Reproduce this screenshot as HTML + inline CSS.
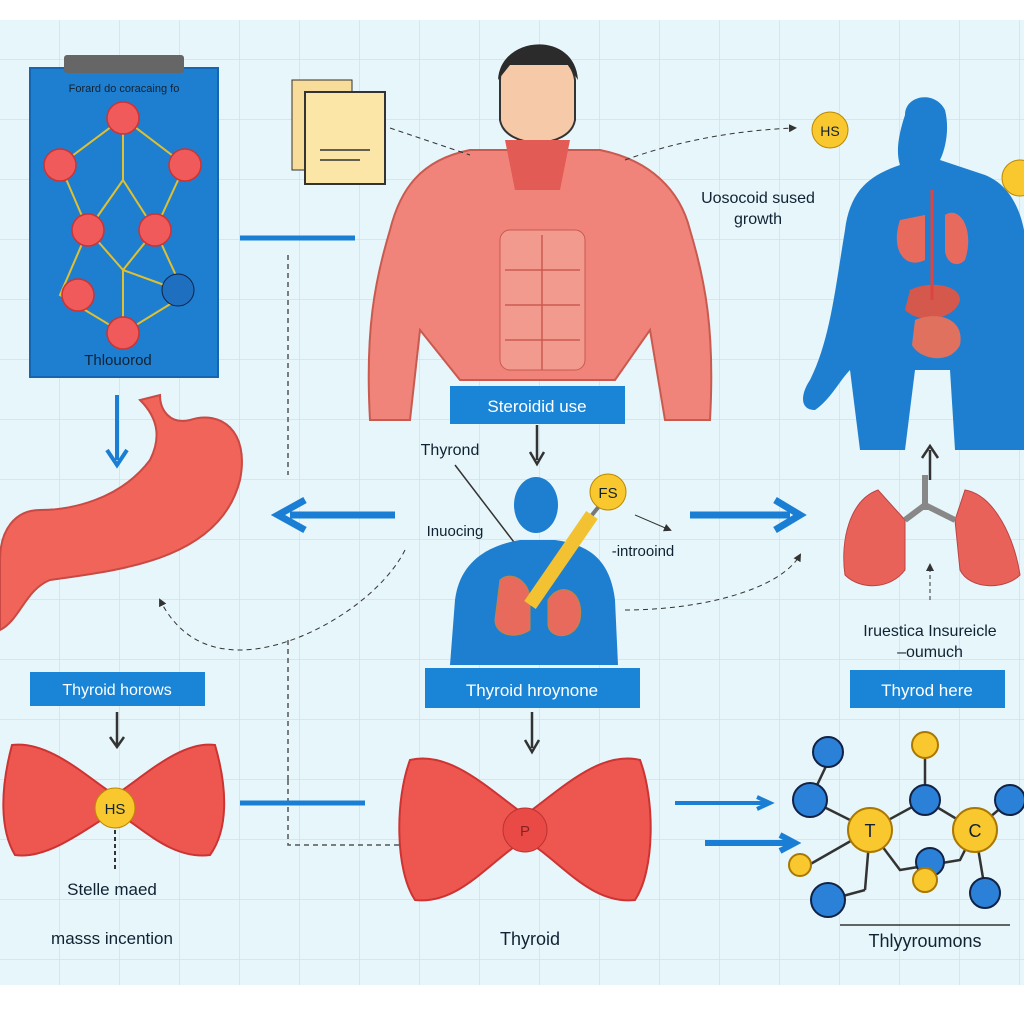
<!DOCTYPE html>
<html><head><meta charset="utf-8"><style>
body{margin:0;width:1024px;height:1024px;overflow:hidden;background:#fff;font-family:"Liberation Sans",sans-serif}
</style></head><body>
<svg width="1024" height="1024" viewBox="0 0 1024 1024" xmlns="http://www.w3.org/2000/svg" font-family="Liberation Sans, sans-serif">
<defs>
<pattern id="g" width="60" height="60" patternUnits="userSpaceOnUse"><path d="M60 0V60M0 60H60" stroke="#c9e4ee" stroke-width="1.5" fill="none"/></pattern>
<marker id="ah" markerWidth="8" markerHeight="8" refX="6" refY="4" orient="auto"><path d="M0,0 L8,4 L0,8z" fill="#333"/></marker>
</defs>
<rect x="0" y="20" width="1024" height="965" fill="#e6f6fa"/>
<rect x="0" y="20" width="1024" height="965" fill="url(#g)"/>
<rect x="30" y="68" width="188" height="309" fill="#1e7fd0" stroke="#1565b0" stroke-width="2"/>
<rect x="64" y="55" width="120" height="18" rx="3" fill="#666"/>
<text x="124" y="92" font-size="11" fill="#123" text-anchor="middle">Forard do coracaing fo</text>
<g stroke="#e0c030" stroke-width="2" fill="none">
<path d="M123 118L60 165L88 230L60 295L123 333L185 295L155 230L185 165Z M123 118L123 180L88 230M123 180L155 230L123 270L88 230M123 270L123 333M123 270L178 290"/>
</g>
<g fill="#f05a5a" stroke="#c33" stroke-width="1.5">
<circle cx="123" cy="118" r="16"/><circle cx="60" cy="165" r="16"/><circle cx="185" cy="165" r="16"/>
<circle cx="88" cy="230" r="16"/><circle cx="155" cy="230" r="16"/><circle cx="78" cy="295" r="16"/><circle cx="123" cy="333" r="16"/>
</g>
<circle cx="178" cy="290" r="16" fill="#1e6fc0" stroke="#124"/>
<text x="118" y="365" font-size="15" fill="#123" text-anchor="middle">Thlouorod</text>
<path d="M140 400 C160 420 160 440 150 460 C120 500 70 510 40 510 C15 510 0 530 0 560 L0 630 C20 620 25 590 50 580 C120 570 220 560 240 480 C250 430 220 410 190 420 C170 425 160 410 160 395 Z" fill="#f0645a" stroke="#c94a44" stroke-width="2"/>
<path d="M117 395V460" stroke="#1a7fd4" stroke-width="4"/><path d="M107 450L117 465L127 450" stroke="#1a7fd4" stroke-width="4" fill="none"/>
<rect x="30" y="672" width="175" height="34" fill="#1a85d6"/>
<text x="117" y="695" font-size="16" fill="#fff" text-anchor="middle">Thyroid horows</text>
<path d="M117 712V745M110 737L117 747L124 737" stroke="#333" stroke-width="2.5" fill="none"/>
<path d="M12 745 C50 740 90 780 115 795 C140 780 180 740 215 745 C228 790 228 830 210 855 C170 860 140 825 115 812 C90 825 50 860 15 855 C0 830 0 790 12 745Z" fill="#ee5750" stroke="#c33" stroke-width="2"/>
<circle cx="115" cy="808" r="20" fill="#f8c82e" stroke="#b80"/>
<text x="115" y="814" font-size="15" fill="#123" text-anchor="middle">HS</text>
<path d="M115 830V870" stroke="#333" stroke-width="2" stroke-dasharray="4 3"/>
<text x="112" y="895" font-size="17" fill="#123" text-anchor="middle">Stelle maed</text>
<text x="112" y="944" font-size="17" fill="#123" text-anchor="middle">masss incention</text>
<path d="M470 150 C420 160 400 190 390 230 C375 280 365 330 370 420 L410 420 L420 330 L460 380 L615 380 L650 330 L665 420 L710 420 C715 330 705 280 690 230 C680 190 650 160 600 150 Z" fill="#f0847a" stroke="#c95a50" stroke-width="2"/>
<rect x="500" y="230" width="85" height="140" rx="10" fill="#f29a8e" stroke="#c95a50"/>
<path d="M505 270H580M505 305H580M505 340H580M542 235V370" stroke="#c95a50" stroke-width="1.5"/>
<path d="M500 80 C500 40 570 40 575 80 L575 120 C570 150 505 150 500 120Z" fill="#f6c9a8" stroke="#333" stroke-width="2"/>
<path d="M498 80 C500 35 575 30 578 80 L568 65 L510 65Z" fill="#2b2b2b"/>
<path d="M505 140L570 140L560 190L515 190Z" fill="#e35b55"/>
<rect x="292" y="80" width="60" height="90" fill="#f8dc9a" stroke="#333"/>
<rect x="305" y="92" width="80" height="92" fill="#fbe6a8" stroke="#333" stroke-width="2"/>
<path d="M320 150H370M320 160H360" stroke="#333" stroke-width="1.5"/>
<path d="M390 128L470 155" stroke="#333" stroke-dasharray="5 4" fill="none"/>
<path d="M625 160C680 140 740 130 795 128" stroke="#333" stroke-dasharray="5 4" fill="none" marker-end="url(#ah)"/>
<path d="M240 238H355" stroke="#1a7fd4" stroke-width="5"/>
<path d="M288 255V475M288 640V780" stroke="#555" stroke-width="1.5" stroke-dasharray="5 4" fill="none"/>
<path d="M288 780V845H400" stroke="#555" stroke-width="1.5" stroke-dasharray="5 4" fill="none"/>
<rect x="450" y="386" width="175" height="38" fill="#1a85d6"/>
<text x="537" y="412" font-size="17" fill="#fff" text-anchor="middle">Steroidid use</text>
<path d="M537 425V460M530 452L537 464L544 452" stroke="#333" stroke-width="2.5" fill="none"/>
<text x="450" y="455" font-size="16" fill="#123" text-anchor="middle">Thyrond</text>
<path d="M455 465L520 550" stroke="#333" stroke-width="1.5"/>
<path d="M450 665 L455 600 C460 560 490 545 520 540 L555 540 C590 545 610 560 615 600 L618 665Z" fill="#1e7fd0"/>
<ellipse cx="536" cy="505" rx="22" ry="28" fill="#1e7fd0"/>
<path d="M500 580 C510 570 530 580 530 600 L530 630 C515 640 495 635 495 620Z M548 600 C560 580 585 590 580 620 C575 640 550 640 548 625Z" fill="#e86a5c" stroke="#b84"/>
<path d="M530 605L592 515" stroke="#f2c232" stroke-width="14"/>
<path d="M592 515L600 505" stroke="#777" stroke-width="4"/>
<circle cx="608" cy="492" r="18" fill="#f8c82e" stroke="#b80"/>
<text x="608" y="498" font-size="15" fill="#123" text-anchor="middle">FS</text>
<path d="M635 515L670 530" stroke="#333" marker-end="url(#ah)"/>
<text x="455" y="536" font-size="15" fill="#123" text-anchor="middle">Inuocing</text>
<text x="643" y="556" font-size="15" fill="#123" text-anchor="middle">-introoind</text>
<path d="M395 515H290M305 500L278 515L305 530" stroke="#1a7fd4" stroke-width="7" fill="none"/>
<path d="M690 515H790M775 500L800 515L775 530" stroke="#1a7fd4" stroke-width="7" fill="none"/>
<path d="M405 550C380 600 300 650 240 650C200 650 175 630 160 600" stroke="#333" stroke-dasharray="5 4" fill="none" marker-end="url(#ah)"/>
<path d="M625 610C700 610 780 590 800 555" stroke="#333" stroke-dasharray="5 4" fill="none" marker-end="url(#ah)"/>
<rect x="425" y="668" width="215" height="40" fill="#1a85d6"/>
<text x="532" y="696" font-size="17" fill="#fff" text-anchor="middle">Thyroid hroynone</text>
<path d="M532 712V748M525 740L532 752L539 740" stroke="#333" stroke-width="2.5" fill="none"/>
<path d="M410 760 C450 750 490 790 525 815 C560 790 600 750 640 760 C655 800 655 870 635 900 C590 905 560 860 525 840 C490 860 460 905 415 900 C395 870 395 800 410 760Z" fill="#ee5750" stroke="#c33" stroke-width="2"/>
<circle cx="525" cy="830" r="22" fill="#ea4a45" stroke="#b33"/>
<text x="525" y="836" font-size="15" fill="#822" text-anchor="middle">P</text>
<text x="530" y="945" font-size="18" fill="#123" text-anchor="middle">Thyroid</text>
<path d="M240 803H365" stroke="#1a7fd4" stroke-width="5"/>
<path d="M675 803H765M757 797L770 803L757 809" stroke="#1a7fd4" stroke-width="4" fill="none"/>
<path d="M705 843H790M780 835L795 843L780 851" stroke="#1a7fd4" stroke-width="6" fill="none"/>
<path d="M905 115 C905 95 935 90 945 110 C950 130 945 150 940 160 L985 175 C1010 185 1020 210 1024 230 L1024 450 L955 450 L950 370 L915 370 L905 450 L860 450 L850 370 C840 380 830 400 815 410 C800 410 800 395 810 380 C830 340 835 290 845 230 C850 190 870 175 900 165 C895 150 900 130 905 115Z" fill="#1e7fd0"/>
<circle cx="830" cy="130" r="18" fill="#f8c82e" stroke="#b80"/>
<text x="830" y="136" font-size="14" fill="#123" text-anchor="middle">HS</text>
<circle cx="1020" cy="178" r="18" fill="#f8c82e" stroke="#b80"/>
<path d="M900 220C890 250 905 270 925 260L925 215Z M945 215C960 205 975 230 965 260C955 270 945 260 945 250Z" fill="#e86a5c"/>
<path d="M910 290C930 280 960 285 960 300C955 320 920 325 905 310Z" fill="#d4584c"/>
<path d="M915 320C940 310 965 320 960 345C950 365 920 360 912 345Z" fill="#e0715f"/>
<path d="M932 190V300" stroke="#d44" stroke-width="3"/>
<text x="758" y="203" font-size="16" fill="#123" text-anchor="middle">Uosocoid sused</text>
<text x="758" y="224" font-size="16" fill="#123" text-anchor="middle">growth</text>
<path d="M930 480V450M922 458L930 446L938 458" stroke="#333" stroke-width="2.5" fill="none"/>
<path d="M878 490C850 500 840 540 845 575C860 590 890 590 905 570L905 520Z M965 490C995 495 1015 540 1020 575C1005 590 970 590 960 570L955 520Z" fill="#e9625a" stroke="#b44"/>
<path d="M925 475V510M905 520L925 505L955 520" stroke="#888" stroke-width="6" fill="none"/>
<path d="M930 600V565" stroke="#333" stroke-dasharray="4 3" marker-end="url(#ah)"/>
<text x="930" y="636" font-size="16" fill="#123" text-anchor="middle">Iruestica Insureicle</text>
<text x="930" y="657" font-size="16" fill="#123" text-anchor="middle">–oumuch</text>
<rect x="850" y="670" width="155" height="38" fill="#1a85d6"/>
<text x="927" y="696" font-size="17" fill="#fff" text-anchor="middle">Thyrod here</text>
<g stroke="#333" stroke-width="2.5" fill="none">
<path d="M810 800L870 830L925 800L975 830L1010 800M870 830L865 890M925 800L925 750M975 830L985 890M870 830L900 870L960 860L975 830M810 800L828 762M828 900L865 890M800 870L870 830"/>
</g>
<g fill="#2b80d8" stroke="#124" stroke-width="2">
<circle cx="810" cy="800" r="17"/><circle cx="828" cy="752" r="15"/><circle cx="925" cy="800" r="15"/><circle cx="1010" cy="800" r="15"/><circle cx="828" cy="900" r="17"/><circle cx="985" cy="893" r="15"/><circle cx="930" cy="862" r="14"/>
</g>
<g fill="#f8c82e" stroke="#a70" stroke-width="2">
<circle cx="870" cy="830" r="22"/><circle cx="975" cy="830" r="22"/><circle cx="925" cy="745" r="13"/><circle cx="800" cy="865" r="11"/><circle cx="925" cy="880" r="12"/>
</g>
<text x="870" y="837" font-size="18" fill="#123" text-anchor="middle">T</text>
<text x="975" y="837" font-size="18" fill="#123" text-anchor="middle">C</text>
<path d="M840 925H1010" stroke="#333" stroke-width="1.5"/>
<text x="925" y="947" font-size="18" fill="#123" text-anchor="middle">Thlyyroumons</text>
</svg>
</body></html>
